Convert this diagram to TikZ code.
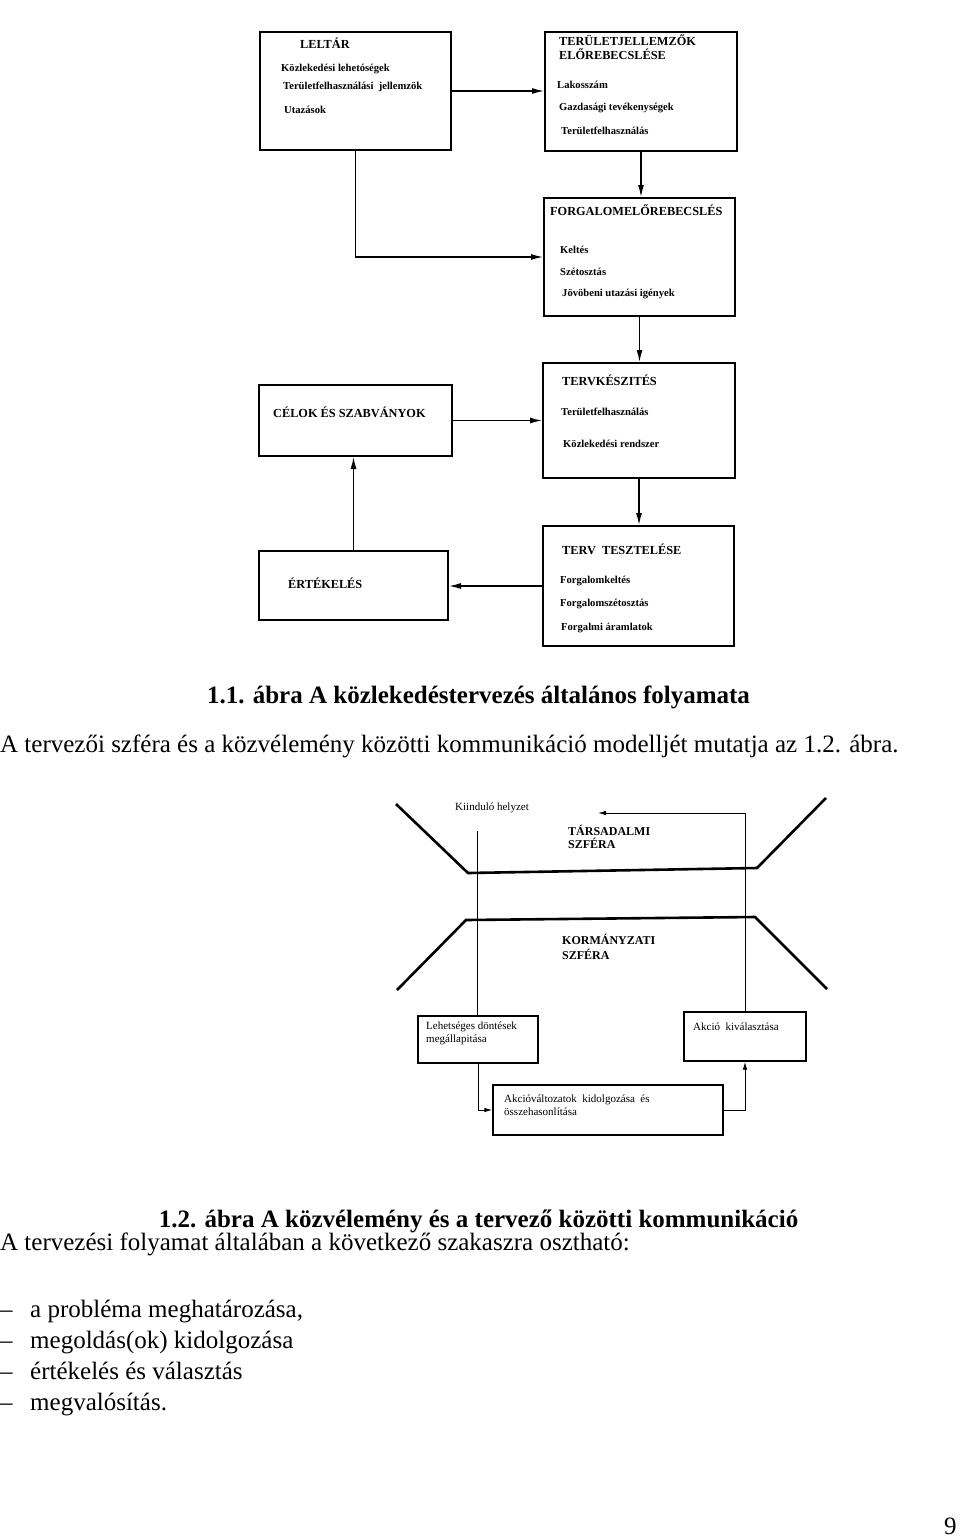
\documentclass[tikz,border=0pt]{standalone}
\usepackage{fontspec}
\setmainfont{Liberation Serif}
\usetikzlibrary{arrows.meta}
\begin{document}
\begin{tikzpicture}[x=1pt,y=-1pt,
  boxa/.style={draw, line width=2pt, inner sep=0pt},
  boxb/.style={draw, line width=1.4pt, inner sep=0pt},
  conna/.style={line width=1.3pt, -{Latex[length=12pt,width=6pt]}},
  connb/.style={line width=0.9pt, -{Latex[length=8pt,width=4.5pt]}},
  plainb/.style={line width=0.9pt},
  sphere/.style={line width=2.6pt, line join=miter},
  ttl/.style={anchor=mid west, inner sep=0pt, font=\fontsize{12.3}{14}\selectfont\bfseries},
  itm/.style={anchor=mid west, inner sep=0pt, font=\fontsize{10.6}{12}\selectfont\bfseries},
  sml/.style={anchor=mid west, inner sep=0pt, font=\fontsize{11}{13}\selectfont},
  bodytxt/.style={anchor=base west, inner sep=0pt, font=\fontsize{25}{30}\selectfont},
  captxt/.style={anchor=base, inner sep=0pt, font=\fontsize{25}{30}\selectfont\bfseries},
]
\useasboundingbox (0,0) rectangle (960,1539);
\fill[white] (0,0) rectangle (960,1539);

% ---------- Diagram 1 ----------
\node[boxa, minimum width=191pt, minimum height=118pt] (leltar)   at (355.5,91) {};
\node[boxa, minimum width=192pt, minimum height=119pt] (terulet)  at (641,91.5) {};
\node[boxa, minimum width=191pt, minimum height=118pt] (forgalom) at (639.5,257) {};
\node[boxa, minimum width=192pt, minimum height=115pt] (terv)     at (639,420.5) {};
\node[boxa, minimum width=193pt, minimum height=71pt]  (celok)    at (355.5,420.5) {};
\node[boxa, minimum width=191pt, minimum height=120pt] (teszt)    at (638.5,586) {};
\node[boxa, minimum width=189pt, minimum height=69pt]  (ertek)    at (353.5,585.5) {};

\node[ttl] (t1) at (300,46) {LELTÁR};
\node[itm] (t1a) at (281,69) {Közlekedési lehetóségek};
\node[itm] (t1b) at (283,87) {Területfelhasználási\ \ jellemzök};
\node[itm] (t1c) at (284,111) {Utazások};

\node[ttl] (t2) at (559,43) {TERÜLETJELLEMZŐK};
\node[ttl] (t2x) at (559,57) {ELŐREBECSLÉSE};
\node[itm] (t2a) at (557,86) {Lakosszám};
\node[itm] (t2b) at (559,108) {Gazdasági tevékenységek};
\node[itm] (t2c) at (561,132) {Területfelhasználás};

\node[ttl] (t3) at (550,213) {FORGALOMELŐREBECSLÉS};
\node[itm] (t3a) at (560,251) {Keltés};
\node[itm] (t3b) at (560,273) {Szétosztás};
\node[itm] (t3c) at (562,294) {Jövöbeni utazási igények};

\node[ttl] (t4) at (562,383) {TERVKÉSZITÉS};
\node[itm] (t4a) at (561,413) {Területfelhasználás};
\node[itm] (t4b) at (563,445) {Közlekedési rendszer};

\node[ttl] (t5) at (273,415) {CÉLOK ÉS SZABVÁNYOK};

\node[ttl] (t6) at (562,552) {TERV\ \ TESZTELÉSE};
\node[itm] (t6a) at (560,581) {Forgalomkeltés};
\node[itm] (t6b) at (560,604) {Forgalomszétosztás};
\node[itm] (t6c) at (561,628) {Forgalmi áramlatok};

\node[ttl] (t7) at (288,586) {ÉRTÉKELÉS};

\draw[conna] (leltar.east) -- (leltar.east -| terulet.west);
\draw[conna] (terulet.south) -- (terulet.south |- forgalom.north);
\draw[conna] (leltar.south) |- (forgalom.west);
\draw[conna] (forgalom.south) -- (forgalom.south |- terv.north);
\draw[conna] (celok.east) -- (celok.east -| terv.west);
\draw[conna] (terv.south) -- (terv.south |- teszt.north);
\draw[conna] (teszt.west) -- (teszt.west -| ertek.east);
\draw[conna] (ertek.north) -- (ertek.north |- celok.south);

% ---------- Text between ----------
\node[captxt] (cap1) at (478.5,703) {1.1. ábra A közlekedéstervezés általános folyamata};
\node[bodytxt] (par1) at (0,752) {A tervezői szféra és a közvélemény közötti kommunikáció modelljét mutatja az 1.2. ábra.};

% ---------- Diagram 2 ----------
\draw[sphere] (396,804) -- (468,873) -- (757,868) -- (826,798);
\draw[sphere] (397,990) -- (466,920) -- (755,917) -- (827,989);

\node[boxb, minimum width=120pt, minimum height=47pt] (lehet)   at (478,1039.5) {};
\node[boxb, minimum width=230pt, minimum height=50pt] (akcvalt) at (608,1110) {};
\node[boxb, minimum width=122pt, minimum height=49pt] (akcio)   at (745,1036.5) {};

\coordinate (kstart) at (477.5,831);
\coordinate (kend) at (598,813);

\node[sml] (k0) at (455,808) {Kiinduló helyzet};
\node[ttl, font=\fontsize{12}{14}\selectfont\bfseries] (k1) at (568,833) {TÁRSADALMI};
\node[ttl, font=\fontsize{12}{14}\selectfont\bfseries] (k1b) at (568,846) {SZFÉRA};
\node[ttl, font=\fontsize{12}{14}\selectfont\bfseries] (k2) at (562,942) {KORMÁNYZATI};
\node[ttl, font=\fontsize{12}{14}\selectfont\bfseries] (k2b) at (562,957) {SZFÉRA};

\node[sml] (l1) at (426,1027) {Lehetséges döntések};
\node[sml] (l2) at (426,1040) {megállapitása};
\node[sml] (a1) at (504,1100) {Akcióváltozatok\ \ kidolgozása\ \ és};
\node[sml] (a2) at (504,1113) {összehasonlítása};
\node[sml] (s1) at (693,1028) {Akció\ \ kiválasztása};

\draw[plainb] (kstart) -- (kstart |- lehet.north);
\draw[connb] (lehet.south) |- (akcvalt.west);
\draw[connb] (akcvalt.east) -| (akcio.south);
\draw[connb] (akcio.north) |- (kend);

% ---------- Text below ----------
\node[captxt] (cap2) at (478.5,1227) {1.2. ábra A közvélemény és a tervező közötti kommunikáció};
\node[bodytxt] (par2) at (0,1250) {A tervezési folyamat általában a következő szakaszra osztható:};
\node[bodytxt] (d1) at (0,1317) {–};
\node[bodytxt] (b1) at (30,1317) {a probléma meghatározása,};
\node[bodytxt] (d2) at (0,1348) {–};
\node[bodytxt] (b2) at (30,1348) {megoldás(ok) kidolgozása};
\node[bodytxt] (d3) at (0,1379) {–};
\node[bodytxt] (b3) at (30,1379) {értékelés és választás};
\node[bodytxt] (d4) at (0,1410) {–};
\node[bodytxt] (b4) at (30,1410) {megvalósítás.};
\node[bodytxt] (pg) at (944,1534) {9};
\end{tikzpicture}
\end{document}
